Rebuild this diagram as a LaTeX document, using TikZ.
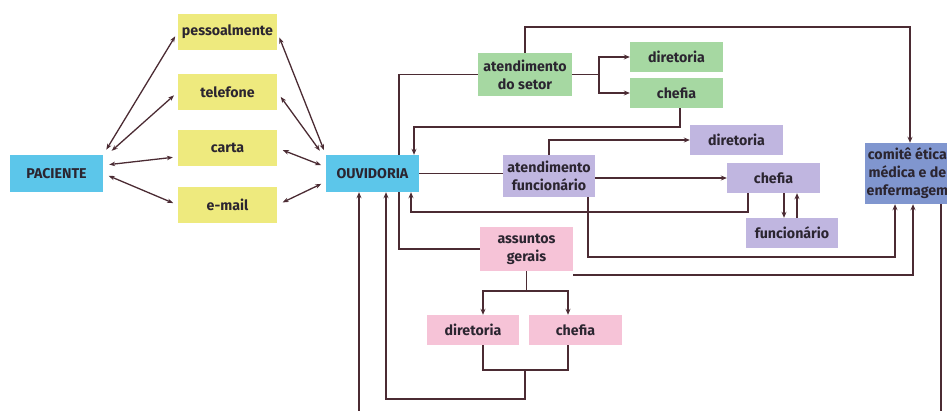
\documentclass[tikz,border=0pt]{standalone}
\usepackage{fontspec}
\setmainfont{Fira Sans}
\usetikzlibrary{arrows.meta}
\definecolor{lineclr}{HTML}{4B2B33}
\definecolor{txtclr}{HTML}{2B2530}
\definecolor{bluefill}{HTML}{5CC6EA}
\definecolor{yelfill}{HTML}{EEEA7E}
\definecolor{grnfill}{HTML}{A6D8A2}
\definecolor{lilfill}{HTML}{C0B6E0}
\definecolor{pinkfill}{HTML}{F6C3D7}
\definecolor{comfill}{HTML}{8096CF}
\begin{document}
\begin{tikzpicture}[x=1pt,y=-1pt,
    box/.style={inner sep=1pt,align=center,text=txtclr,
      font=\bfseries\fontsize{14.2}{18}\selectfont,
      minimum width=93pt,minimum height=30pt},
    bluebox/.style={box,fill=bluefill,minimum height=37pt},
    yelbox/.style={box,fill=yelfill,minimum width=99pt,minimum height=36pt},
    grnbox/.style={box,fill=grnfill},
    lilbox/.style={box,fill=lilfill},
    pinkbox/.style={box,fill=pinkfill},
    combox/.style={box,fill=comfill,minimum width=0pt,minimum height=61pt,inner xsep=1.5pt},
    link/.style={draw=lineclr,line width=1.9pt},
    arr/.style={link,-{Stealth[length=6pt,width=5pt]}},
    dbl/.style={draw=lineclr,line width=1.3pt,
      {Stealth[length=6pt,width=4.5pt]}-{Stealth[length=6pt,width=4.5pt]},
      shorten <=6pt,shorten >=5pt}]
    \useasboundingbox (0,0) rectangle (947,410);
    % paciente and ways in
    \node[bluebox] (pac) at (56.5,173.5) {PACIENTE};
    \node[yelbox] (pes) at (227.5,32) {pessoalmente};
    \node[yelbox] (tel) at (227.5,92) {telefone};
    \node[yelbox] (car) at (227.5,148) {carta};
    \node[yelbox] (ema) at (227.5,205) {e-mail};
    \node[bluebox] (ouv) at (372.5,173.5) {OUVIDORIA};
    % setor (green)
    \node[grnbox,minimum width=94pt,minimum height=43pt] (setor) at (525,74.5) {atendimento\\do setor};
    \node[grnbox] (gdir) at (676.5,57) {diretoria};
    \node[grnbox] (gche) at (676.5,93) {chefia};
    % funcionario (lilac)
    \node[lilbox,minimum width=92pt,minimum height=42pt] (func) at (549,176) {atendimento\\funcionário};
    \node[lilbox] (pdir) at (736.5,140) {diretoria};
    \node[lilbox] (pche) at (773.5,178) {chefia};
    \node[lilbox,minimum width=92pt] (pfun) at (792,233) {funcionário};
    % assuntos gerais (pink)
    \node[pinkbox,minimum height=44pt] (ger) at (526.5,249) {assuntos\\gerais};
    \node[pinkbox,minimum width=92pt] (rdir) at (473,330) {diretoria};
    \node[pinkbox] (rche) at (575.5,330) {chefia};
    % comite
    \node[combox,anchor=west] (com) at (865,173.5) {comitê ética\\médica e de\\enfermagem};

    % paciente <-> ways in <-> ouvidoria
    \draw[dbl] (pac.north east) -- (pes.west);
    \draw[dbl] ([xshift=4]pac.north east) -- (tel.west);
    \draw[dbl] (pac.10) -- (car.190);
    \draw[dbl] (pac.east) -- (ema.west);
    \draw[dbl] (pes.east) -- (ouv.north west);
    \draw[dbl] (tel.east) -- ([xshift=-3]ouv.north west);
    \draw[dbl] (car.east) -- (ouv.172);
    \draw[dbl] (ema.east) -- (ouv.190);

    % ouvidoria to the three ways of handling
    \draw[link] (setor.west) -| ([xshift=26.5]ouv.north);
    \draw[link] (ger.west) -| ([xshift=26.5]ouv.south);
    \draw[link] (ouv.east) -- (ouv.east -| func.west);

    % setor
    \draw[arr] (setor.east) -- ++(27,0) |- (gdir.west);
    \draw[arr] (setor.east) -- ++(27,0) |- (gche.west);
    \draw[arr] ([xshift=3.5]gche.south) -- ++(0,19) -| ([xshift=41.5]ouv.north);
    \draw[arr] (setor.north) -- ++(0,-26) -| ([xshift=45]com.north west);

    % funcionario
    \draw[arr] (func.north) |- (pdir.west);
    \draw[arr] (func.east |- pche.west) -- (pche.west);
    \draw[arr] ([xshift=-25.5]pche.south) -- ++(0,19) -| ([xshift=38.5]ouv.south);
    \draw[arr] ([xshift=10.5]pche.south) -- ([xshift=10.5]pche.south |- pfun.north);
    \draw[arr] ([xshift=5]pfun.north) -- ([xshift=5]pfun.north |- pche.south);
    \draw[arr] ([xshift=39]func.south) |- ++(307,60) -- ([xshift=30]com.south west);

    % assuntos gerais
    \draw[arr] (ger.south) -- ++(0,20) -| ([xshift=10]rdir.north);
    \draw[arr] (ger.south) -- ++(0,20) -| ([xshift=-7.5]rche.north);
    \draw[link] ([xshift=10]rdir.south) |- ++(42,25) -| ([xshift=-7.5]rche.south);
    \draw[arr] ([xshift=-1.5]ger.south |- 0,370) |- ++(-139,29) -| ([xshift=13.5]ouv.south);
    \draw[arr] ([yshift=-4]ger.south east) -| ([xshift=48]com.south west);

    % comite back to ouvidoria
    \draw[arr] ([xshift=76]com.south west) |- (0,418) -| ([xshift=-13.5]ouv.south);
\end{tikzpicture}
\end{document}
